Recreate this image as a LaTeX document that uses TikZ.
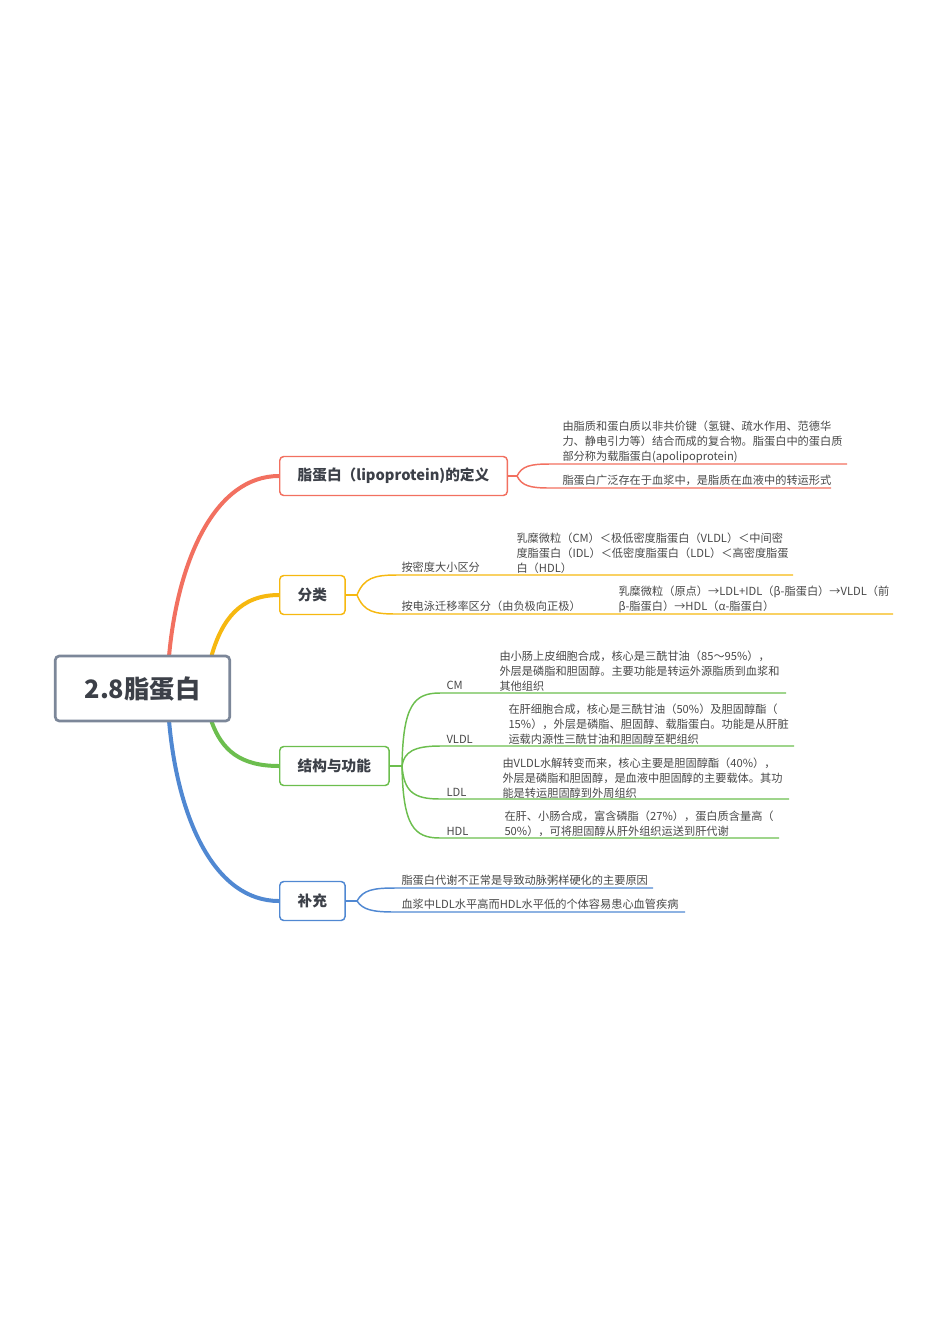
\documentclass[tikz,border=0pt]{standalone}
\usepackage{fontspec}
\setmainfont{Noto Sans CJK SC}
\usetikzlibrary{backgrounds}
\definecolor{rootgray}{RGB}{124,135,153}
\definecolor{inkgray}{RGB}{60,64,72}
\definecolor{txtgray}{RGB}{72,72,72}
\definecolor{redbr}{RGB}{242,112,96}
\definecolor{yelbr}{RGB}{246,184,16}
\definecolor{grnbr}{RGB}{108,190,78}
\definecolor{blubr}{RGB}{80,136,210}

\tikzset{every picture/.style={line width=0.75pt}}
\tikzset{
  rootbox/.style={draw=rootgray, line width=2pt, rounded corners=3pt, fill=white, text=inkgray,
    font=\fontsize{19}{22}\selectfont\bfseries, inner xsep=22pt, minimum height=48.75pt},
  topicbox/.style={draw=#1, line width=1.1pt, rounded corners=3pt, fill=white, text=inkgray,
    font=\fontsize{11}{13}\selectfont\bfseries, inner xsep=13.5pt, minimum height=29.25pt, anchor=west},
  trunk/.style={draw=#1, line width=3pt, line cap=round},
  twig/.style={draw=#1, line width=1.1pt},
  leaf/.style={inner sep=0.75pt, text=txtgray, font=\fontsize{8.4}{11.25}\selectfont, align=left},
}

\begin{document}
\begin{tikzpicture}[x=0.75pt,y=0.75pt,yscale=-1,xscale=1]
\useasboundingbox (0,0) rectangle (950,1343);

%Root and main topics
\node [rootbox] (root) at (142.5,688.5) {2.8脂蛋白};
\node [topicbox=redbr] (defn) at (279,476) {脂蛋白（lipoprotein)的定义};
\node [topicbox=yelbr] (classif) at (279,595) {分类};
\node [topicbox=grnbr] (struct) at (279,766) {结构与功能};
\node [topicbox=blubr] (supp) at (279,901) {补充};

%Trunks behind the root
\begin{scope}[on background layer]
\draw [trunk=redbr] ([xshift=20pt]root.north) .. controls (178,560) and (215,476) .. (defn.west);
\draw [trunk=yelbr] ([xshift=52pt]root.north) .. controls (222,620) and (240,595) .. (classif.west);
\draw [trunk=grnbr] ([xshift=52pt]root.south) .. controls (222,750) and (240,766) .. (struct.west);
\draw [trunk=blubr] ([xshift=20pt]root.south) .. controls (178,820) and (215,901) .. (supp.west);
\end{scope}

%Definition
\coordinate (dfork) at (517,476);
\coordinate (defAs) at (550,464); \coordinate (defAe) at (847,464);
\coordinate (defBs) at (550,488); \coordinate (defBe) at (831,488);
\draw [twig=redbr] (defn.east) -- (dfork);
\draw [twig=redbr] (dfork) .. controls (522,466) and (530,464) .. (defAs) -- (defAe);
\draw [twig=redbr] (dfork) .. controls (522,486) and (530,488) .. (defBs) -- (defBe);
\node [leaf, anchor=north west] (defA) at (561,419.5) {由脂质和蛋白质以非共价键（氢键、疏水作用、范德华\\力、静电引力等）结合而成的复合物。脂蛋白中的蛋白质\\部分称为载脂蛋白(apolipoprotein)};
\node [leaf, anchor=west] (defB) at (561,480) {脂蛋白广泛存在于血浆中，是脂质在血液中的转运形式};

%Classification
\coordinate (cfork) at (357,595);
\coordinate (denS) at (397,575); \coordinate (denE) at (793,575);
\coordinate (mobS) at (397,614); \coordinate (mobE) at (893,614);
\draw [twig=yelbr] (classif.east) -- (cfork);
\draw [twig=yelbr] (cfork) .. controls (364,578) and (374,575) .. (denS) -- (denE);
\draw [twig=yelbr] (cfork) .. controls (364,612) and (374,614) .. (mobS) -- (mobE);
\node [leaf, anchor=west] (byDensity) at (400,567) {按密度大小区分};
\node [leaf, anchor=north west] (densityNote) at (515,531.5) {乳糜微粒（CM）＜极低密度脂蛋白（VLDL）＜中间密\\度脂蛋白（IDL）＜低密度脂蛋白（LDL）＜高密度脂蛋\\白（HDL）};
\node [leaf, anchor=west] (byMobility) at (400,606) {按电泳迁移率区分（由负极向正极）};
\node [leaf, anchor=north west] (mobilityNote) at (617,584.5) {乳糜微粒（原点）→LDL+IDL（β-脂蛋白）→VLDL（前\\β-脂蛋白）→HDL（α-脂蛋白）};

%Structure and function
\coordinate (sfork) at (402,766);
\coordinate (cmS) at (440,693); \coordinate (cmE) at (786,693);
\coordinate (vldlS) at (440,746); \coordinate (vldlE) at (794,746);
\coordinate (ldlS) at (440,799); \coordinate (ldlE) at (789,799);
\coordinate (hdlS) at (440,838); \coordinate (hdlE) at (779,838);
\draw [twig=grnbr] (struct.east) -- (sfork);
\draw [twig=grnbr] (sfork) .. controls (403,705) and (414,693) .. (cmS) -- (cmE);
\draw [twig=grnbr] (sfork) .. controls (404,752) and (414,746) .. (vldlS) -- (vldlE);
\draw [twig=grnbr] (sfork) .. controls (404,792) and (414,799) .. (ldlS) -- (ldlE);
\draw [twig=grnbr] (sfork) .. controls (403,826) and (414,838) .. (hdlS) -- (hdlE);
\node [leaf, anchor=west] (cmLbl) at (445,685) {CM};
\node [leaf, anchor=north west] (cmNote) at (498,649.5) {由小肠上皮细胞合成，核心是三酰甘油（85～95\%），\\外层是磷脂和胆固醇。主要功能是转运外源脂质到血浆和\\其他组织};
\node [leaf, anchor=west] (vldlLbl) at (445,739) {VLDL};
\node [leaf, anchor=north west] (vldlNote) at (507,702.5) {在肝细胞合成，核心是三酰甘油（50\%）及胆固醇酯（\\15\%），外层是磷脂、胆固醇、载脂蛋白。功能是从肝脏\\运载内源性三酰甘油和胆固醇至靶组织};
\node [leaf, anchor=west] (ldlLbl) at (445,792) {LDL};
\node [leaf, anchor=north west] (ldlNote) at (501,756.5) {由VLDL水解转变而来，核心主要是胆固醇酯（40\%），\\外层是磷脂和胆固醇，是血液中胆固醇的主要载体。其功\\能是转运胆固醇到外周组织};
\node [leaf, anchor=west] (hdlLbl) at (445,831) {HDL};
\node [leaf, anchor=north west] (hdlNote) at (503,809.5) {在肝、小肠合成，富含磷脂（27\%），蛋白质含量高（\\50\%），可将胆固醇从肝外组织运送到肝代谢};

%Supplement
\coordinate (bfork) at (357,901);
\coordinate (suAs) at (395,888); \coordinate (suAe) at (653,888);
\coordinate (suBs) at (395,912); \coordinate (suBe) at (685,912);
\draw [twig=blubr] (supp.east) -- (bfork);
\draw [twig=blubr] (bfork) .. controls (363,890) and (373,888) .. (suAs) -- (suAe);
\draw [twig=blubr] (bfork) .. controls (363,910) and (373,912) .. (suBs) -- (suBe);
\node [leaf, anchor=west] (suA) at (400,880) {脂蛋白代谢不正常是导致动脉粥样硬化的主要原因};
\node [leaf, anchor=west] (suB) at (400,904) {血浆中LDL水平高而HDL水平低的个体容易患心血管疾病};

\end{tikzpicture}
\end{document}
